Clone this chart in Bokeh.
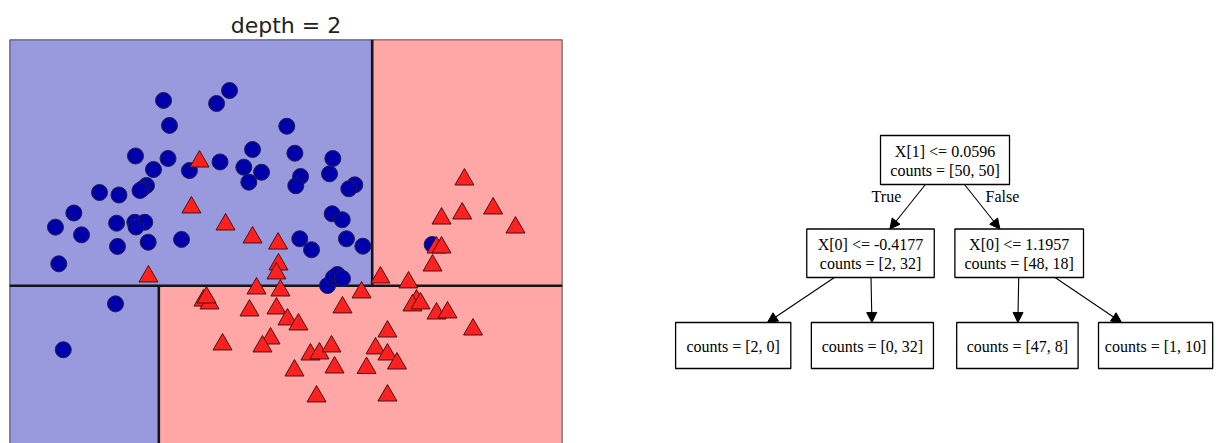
from bokeh.plotting import figure
from bokeh.layouts import row
from bokeh.models import Range1d, Span, Arrow, NormalHead, ColumnDataSource
from bokeh.embed import file_html
from bokeh.resources import INLINE
from bokeh.core.properties import value

# ---------------- data ----------------
# class 0 (blue circles)
class0_x = [-0.382, -0.337, 0.019, 0.117, -0.594, -0.348, -0.458, -0.186, 0.045, -0.511,
            -0.543, -0.866, -0.719, -1.060, -1.199, -1.002, -0.737, -0.599, -0.524, -0.590,
            -0.730, -0.498, -0.246, -1.174, 0.291, 0.225, 0.359, 0.263, 0.550, 0.611,
            0.654, 0.618, 0.898, 0.873, 1.064, 1.019, 0.893, 0.969, 0.648, 0.737,
            1.001, 1.125, 0.858, 0.903, 0.933, 0.971, -0.560, 1.649, -0.745, -1.140]
class0_y = [1.461, 1.272, 1.438, 1.536, 1.041, 1.022, 0.939, 0.931, 0.996, 0.818,
            0.793, 0.765, 0.746, 0.610, 0.503, 0.445, 0.533, 0.540, 0.540, 0.504,
            0.357, 0.389, 0.410, 0.226, 1.090, 0.956, 0.918, 0.843, 1.266, 1.062,
            0.886, 0.816, 1.022, 0.906, 0.823, 0.793, 0.604, 0.559, 0.415, 0.332,
            0.415, 0.359, 0.062, 0.122, 0.145, 0.115, 0.780, 0.372, -0.077, -0.424]
# class 1 (red triangles)
class1_x = [-0.110, -0.171, 0.087, 0.291, 0.484, -0.496, 0.487, 0.472, 1.893, 1.876,
            2.110, 1.720, 2.279, 1.682, 1.720, 1.652, 1.258, 1.470, 0.321, 0.502,
            -0.080, -0.034, -0.057, 0.268, 0.472, 0.555, 0.638, 0.971, 0.064, 0.427,
            0.366, 0.729, 0.797, 0.888, 0.608, 0.911, 0.775, 1.115, 1.531, 1.500,
            1.561, 1.682, 1.765, 1.958, 1.311, 1.221, 1.311, 1.383, 1.153, 1.311]
class1_y = [0.999, 0.652, 0.523, 0.425, 0.379, 0.130, 0.221, 0.153, 0.863, 0.606,
            0.644, 0.568, 0.500, 0.349, 0.349, 0.213, 0.122, 0.085, 0.039, 0.024,
            -0.052, -0.074, -0.029, -0.127, -0.112, -0.195, -0.233, -0.104, -0.384, -0.339,
            -0.399, -0.460, -0.452, -0.399, -0.581, -0.558, -0.777, 0.009, -0.052, -0.089,
            -0.074, -0.150, -0.142, -0.271, -0.286, -0.414, -0.460, -0.528, -0.562, -0.770]

# decision tree (depth 2)
split_feature = [1, 0, 0]               # root, left child, right child
split_threshold = [0.0596, -0.4177, 1.1957]
node_counts = [[50, 50], [2, 32], [48, 18], [2, 0], [0, 32], [47, 8], [1, 10]]
edge_labels = ["True", "False"]
title_text = "depth = 2"

# ---------------- left: partition plot ----------------
X_MIN, X_MAX = -1.5465, 2.6344
Y_MIN, Y_MAX = -1.1327, 1.9217

p = figure(width=563, height=443, x_range=Range1d(X_MIN, X_MAX), y_range=Range1d(Y_MIN, Y_MAX),
           output_backend="svg", toolbar_location=None, x_axis_location=None, y_axis_location=None,
           min_border_left=9, min_border_right=1, min_border_top=39, min_border_bottom=0,
           title=title_text)
p.grid.visible = False
p.outline_line_color = None
p.title.align = "center"
p.title.text_font = "DejaVu Sans"
p.title.text_font_size = "22px"
p.title.text_font_style = "normal"
p.title.text_color = "#222222"
p.title.standoff = 4

t_root, t_left, t_right = split_threshold
# regions: blue = class 0, red = class 1
p.quad(left=[X_MIN, X_MIN], right=[t_right, t_left], bottom=[t_root, Y_MIN], top=[Y_MAX, t_root],
       fill_color="#9999dd", line_color=None)
p.quad(left=[t_right, t_left], right=[X_MAX, X_MAX], bottom=[t_root, Y_MIN], top=[Y_MAX, t_root],
       fill_color="#ffa6a6", line_color=None)
p.segment(x0=[X_MIN, t_right, t_left], y0=[t_root, t_root, Y_MIN],
          x1=[X_MAX, t_right, t_left], y1=[t_root, Y_MAX, t_root],
          line_color="#151515", line_width=2.6)

for loc, dim in [(X_MIN, "height"), (X_MAX, "height"), (Y_MAX, "width")]:
    p.add_layout(Span(location=loc, dimension=dim, line_color="#222222", line_width=1.5))

p.scatter(class0_x, class0_y, marker="circle", size=16, fill_color="#0000aa",
          line_color="#202050", line_width=1)
p.scatter(class1_x, class1_y, marker="triangle", size=19, fill_color="#ff2020",
          line_color="#4a1010", line_width=1)

# ---------------- right: tree diagram ----------------
q = figure(width=660, height=443, x_range=Range1d(563, 1223), y_range=Range1d(443, 39),
           output_backend="svg", toolbar_location=None, x_axis_location=None, y_axis_location=None,
           min_border_left=0, min_border_right=0, min_border_top=39, min_border_bottom=0)
q.grid.visible = False
q.outline_line_color = None

# layout of the graphviz drawing (page pixels)
node_cx = [944.5, 870.0, 1018.7, 732.7, 871.9, 1016.9, 1155.1]
node_w = [129.0, 127.5, 128.6, 115.2, 122.1, 121.4, 114.2]
node_level = [0, 1, 1, 2, 2, 2, 2]
level_top = [135.0, 228.5, 322.0]
level_bot = [184.0, 277.0, 368.0]
edges = [(0, 1), (0, 2), (1, 3), (1, 4), (2, 5), (2, 6)]

left = [c - w / 2 for c, w in zip(node_cx, node_w)]
right = [c + w / 2 for c, w in zip(node_cx, node_w)]
top = [level_top[l] for l in node_level]
bot = [level_bot[l] for l in node_level]
cy = [(a + b) / 2 for a, b in zip(top, bot)]

# edges (center-to-center, clipped at boxes)
xs, ys, xe, ye = [], [], [], []
for a, b in edges:
    dx, dy = node_cx[b] - node_cx[a], cy[b] - cy[a]
    t0 = (bot[a] - cy[a]) / dy
    t1 = (top[b] - cy[a]) / dy
    xs.append(node_cx[a] + dx * t0); ys.append(bot[a])
    xe.append(node_cx[a] + dx * t1); ye.append(top[b])
q.add_layout(Arrow(end=NormalHead(size=10, fill_color="black", line_color="black"),
                   source=ColumnDataSource(dict(x0=xs, y0=ys, x1=xe, y1=ye)),
                   x_start="x0", y_start="y0", x_end="x1", y_end="y1",
                   line_color="black", line_width=1.1))

q.quad(left=left, right=right, top=top, bottom=bot, fill_color="white",
       line_color="black", line_width=1.3)

tx, ty, tt = [], [], []
for i in range(len(node_cx)):
    counts = "counts = [%d, %d]" % tuple(node_counts[i])
    if i < len(split_feature):
        tx += [node_cx[i], node_cx[i]]
        ty += [cy[i] - 8.5, cy[i] + 10.5]
        tt += ["X[%d] <= %.4f" % (split_feature[i], split_threshold[i]), counts]
    else:
        tx.append(node_cx[i]); ty.append(cy[i] + 0.7); tt.append(counts)
q.text(tx, ty, text=tt, text_font=value("Liberation Serif"), text_font_size="16px",
       text_align="center", text_baseline="middle", text_color="black")

# edge labels beside the root's edges
lab_x = [xs[0] - 39.0, xs[1] + 38.0]
lab_y = [196.2, 196.2]
q.text(lab_x, lab_y, text=edge_labels, text_font=value("Liberation Serif"), text_font_size="16px",
       text_align="center", text_baseline="middle", text_color="black")

layout = row(p, q)
open("out.html", "w").write(file_html(layout, INLINE))
